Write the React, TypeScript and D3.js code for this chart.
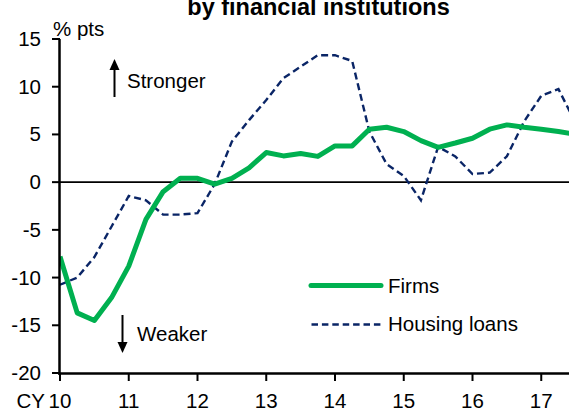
import React from "react";
import * as d3 from "d3";

const W = 569;
const H = 410;

const yTicks = [15, 10, 5, 0, -5, -10, -15, -20];
const xTickYears = [10, 11, 12, 13, 14, 15, 16, 17];
const xTickLabels = ["10", "11", "12", "13", "14", "15", "16", "17"];

// quarterly observations starting CY2010 Q1
const firms = [
  -7.8, -13.7, -14.5, -12.1, -8.8, -3.9, -1.0, 0.4, 0.4, -0.2, 0.4, 1.5, 3.1, 2.75, 3.0,
  2.7, 3.8, 3.8, 5.55, 5.75, 5.3, 4.35, 3.65, 4.1, 4.6, 5.55, 6.0, 5.75, 5.55, 5.3, 5.0,
];
const housing = [
  -10.75, -10.0, -7.85, -4.65, -1.45, -1.9, -3.4, -3.4, -3.25, -0.2, 4.25, 6.5, 8.6, 10.9,
  12.1, 13.3, 13.3, 12.7, 5.3, 1.9, 0.65, -1.9, 3.7, 2.7, 0.85, 1.0, 2.7, 6.35, 9.05, 9.75, 6.2,
];

const FONT = "'Liberation Sans', Arial, sans-serif";
const GREEN = "#00b050";
const NAVY = "#0a2566";

export default function App() {
  const x = d3.scaleLinear().domain([10, 17.4]).range([60, 568.75]);
  const y = d3.scaleLinear().domain([-20, 15]).range([373, 39]);
  const xOf = (i: number) => x(10 + i / 4);

  const line = d3
    .line<number>()
    .x((_, i) => xOf(i))
    .y((d) => y(d));

  const fs = 20.5;

  return (
    <svg
      width={W}
      height={H}
      style={{ position: "absolute", left: 0, top: 0, background: "#fff" }}
      fontFamily={FONT}
    >
      <defs>
        <clipPath id="plot">
          <rect x={60} y={0} width={W - 60} height={374} />
        </clipPath>
      </defs>
      {/* title (second line) */}
      <text x={318.5} y={15} textAnchor="middle" fontWeight="bold" fontSize={23.5} fill="#000">
        by financial institutions
      </text>
      <text x={53} y={36} fontSize={fs} fill="#000">
        % pts
      </text>

      {/* zero line */}
      <line x1={60} x2={W} y1={y(0)} y2={y(0)} stroke="#000" strokeWidth={1.6} />

      {/* series */}
      <g clipPath="url(#plot)">
        <path d={line(housing) || ""} fill="none" stroke={NAVY} strokeWidth={2.4} strokeDasharray="7,4" />
        <path d={line(firms) || ""} fill="none" stroke={GREEN} strokeWidth={5} strokeLinejoin="round" />
      </g>

      {/* y axis */}
      <line x1={59.5} x2={59.5} y1={y(15)} y2={374.5} stroke="#000" strokeWidth={2.5} />
      {yTicks.map((t) => (
        <g key={t}>
          <line x1={52} x2={60} y1={y(t)} y2={y(t)} stroke="#000" strokeWidth={2} />
          <text x={41} y={y(t) + 7} textAnchor="end" fontSize={fs} fill="#000">
            {t}
          </text>
        </g>
      ))}

      {/* x axis */}
      <line x1={58} x2={W} y1={373.5} y2={373.5} stroke="#000" strokeWidth={2.5} />
      {xTickYears.map((t, i) => (
        <g key={t}>
          <line x1={x(t)} x2={x(t)} y1={373} y2={381} stroke="#000" strokeWidth={2} />
          <text x={x(t)} y={408} textAnchor="middle" fontSize={fs} fill="#000">
            {xTickLabels[i]}
          </text>
        </g>
      ))}
      <text x={x(10) - 15} y={408} textAnchor="end" fontSize={fs} fill="#000">
        CY
      </text>

      {/* Stronger / Weaker annotations */}
      <line x1={114.5} x2={114.5} y1={97} y2={68} stroke="#000" strokeWidth={2} />
      <path d="M109.5,70 L114.5,59 L119.5,70 Z" fill="#000" />
      <text x={127} y={87.5} fontSize={fs} fill="#000">
        Stronger
      </text>
      <line x1={122.5} x2={122.5} y1={315} y2={344} stroke="#000" strokeWidth={2} />
      <path d="M117.5,342 L122.5,353 L127.5,342 Z" fill="#000" />
      <text x={137} y={340.5} fontSize={fs} fill="#000">
        Weaker
      </text>

      {/* legend */}
      <line x1={311} x2={381} y1={285.5} y2={285.5} stroke={GREEN} strokeWidth={5} strokeLinecap="round" />
      <text x={388} y={292.5} fontSize={fs} fill="#000">
        Firms
      </text>
      <line x1={311.5} x2={381} y1={324.5} y2={324.5} stroke={NAVY} strokeWidth={2.4} strokeDasharray="6.5,3.9" />
      <text x={388} y={331} fontSize={fs} fill="#000">
        Housing loans
      </text>
    </svg>
  );
}
